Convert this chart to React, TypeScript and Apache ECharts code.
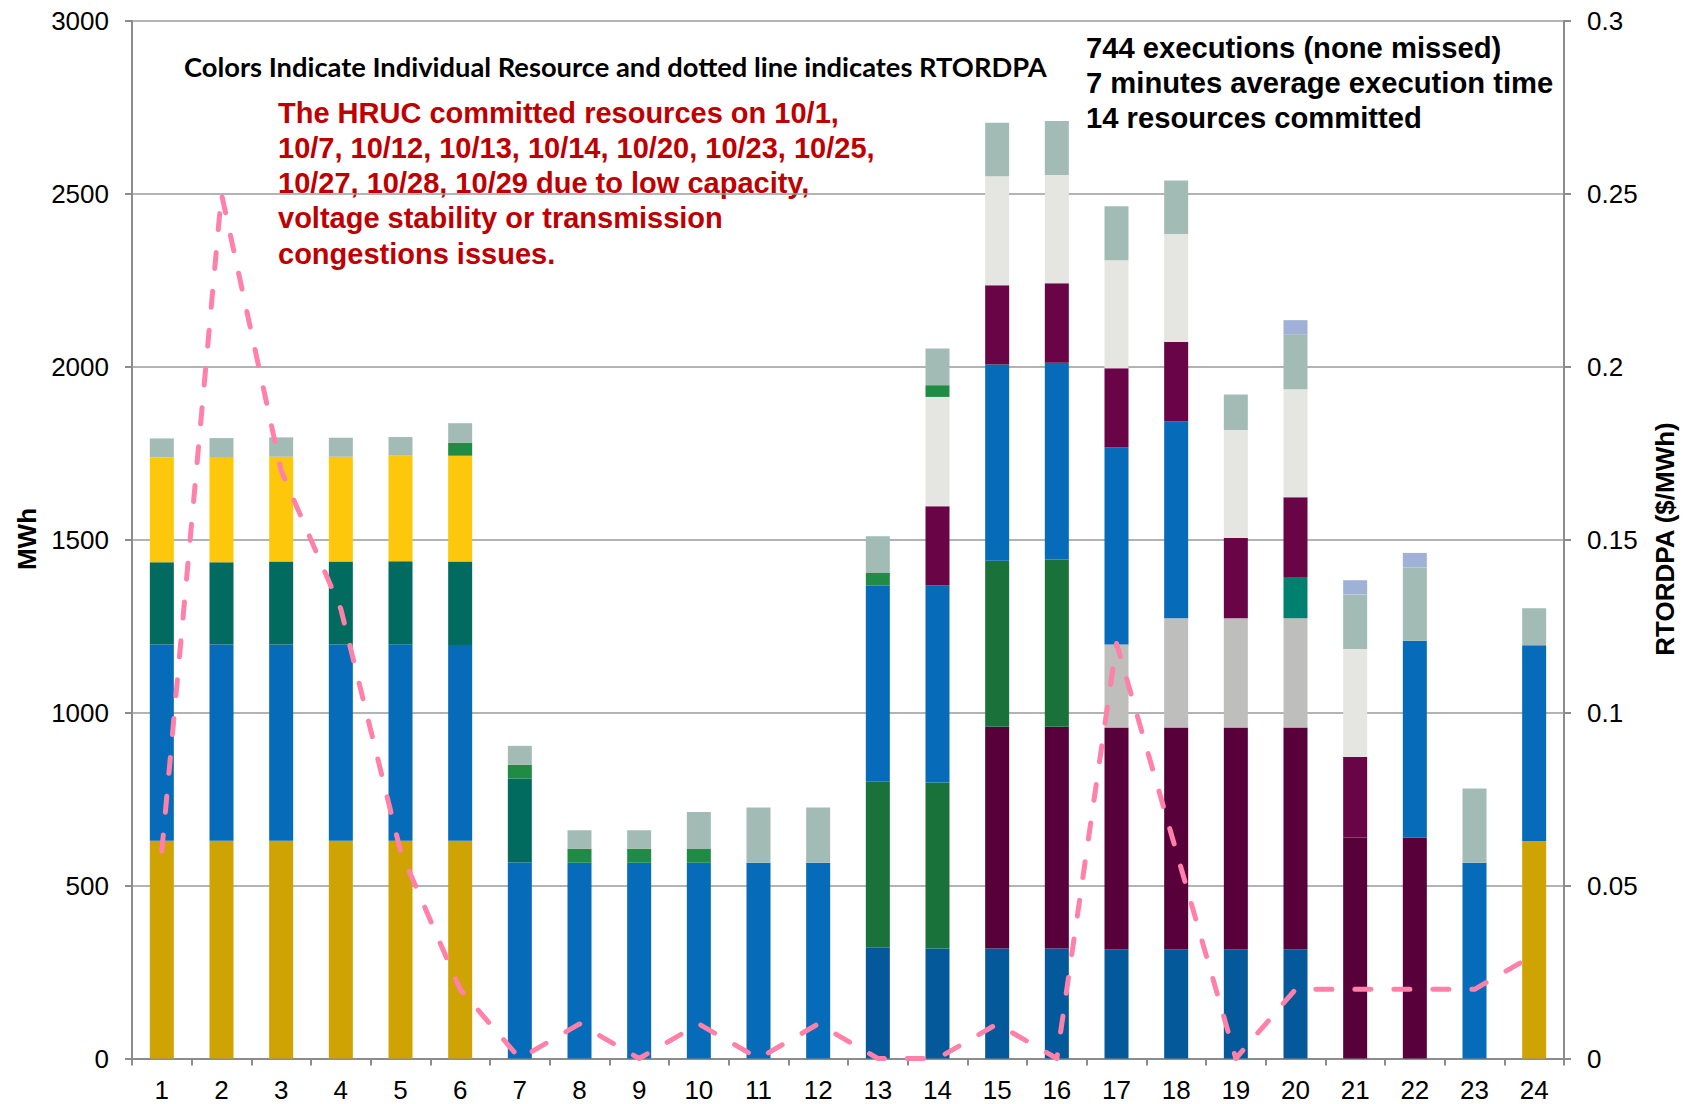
import React, { useEffect, useRef } from "react";
import * as echarts from "echarts";

const categories = ["1","2","3","4","5","6","7","8","9","10","11","12","13","14","15","16","17","18","19","20","21","22","23","24"];

// Stacked resource MWh (bottom to top)
const resGold = [630,630,630,630,630,630,0,0,0,0,0,0,0,0,0,0,0,0,0,0,0,0,0,629];
const resDarkBlue = [0,0,0,0,0,0,0,0,0,0,0,0,320,318,318,318,316,316,316,316,0,0,0,0];
const resDarkPurple = [0,0,0,0,0,0,0,0,0,0,0,0,0,0,641,641,641,641,641,641,639,639,0,0];
const resGreen = [0,0,0,0,0,0,0,0,0,0,0,0,480,480,480,484,0,0,0,0,0,0,0,0];
const resMidGray = [0,0,0,0,0,0,0,0,0,0,0,0,0,0,0,0,240,316,316,316,0,0,0,0];
const resBlue = [567,567,567,567,568,566,567,566,566,566,566,566,567,570,568,569,570,570,0,0,0,569,566,566];
const resDarkTeal = [238,238,240,240,240,241,242,0,0,0,0,0,0,0,0,0,0,0,0,0,0,0,0,0];
const resTeal = [0,0,0,0,0,0,0,0,0,0,0,0,0,0,0,0,0,0,0,119,0,0,0,0];
const resPurple = [0,0,0,0,0,0,0,0,0,0,0,0,0,229,229,230,229,229,232,231,233,0,0,0];
const resYellow = [303,304,303,303,305,306,0,0,0,0,0,0,0,0,0,0,0,0,0,0,0,0,0,0];
const resLightGray = [0,0,0,0,0,0,0,0,0,0,0,0,0,316,315,313,312,312,312,312,312,0,0,0];
const resBrightGreen = [0,0,0,0,0,38,40,40,40,40,0,0,37,34,0,0,0,0,0,0,0,0,0,0];
const resGrayGreen = [55,55,56,55,54,56,55,54,54,107,160,160,106,106,155,156,156,155,103,159,158,212,215,107];
const resLightBlue = [0,0,0,0,0,0,0,0,0,0,0,0,0,0,0,0,0,0,0,41,41,42,0,0];

// RTORDPA ($/MWh)
const rtordpa = [0.06,0.25,0.17,0.13,0.06,0.02,0,0.01,0,0.01,0,0.01,0,0,0.01,0,0.12,0.06,0,0.02,0.02,0.02,0.02,0.03];

const leftTicks = { min: 0, max: 3000, interval: 500 };
const rightTicks = { min: 0, max: 0.3, interval: 0.05 };

const noteLines = [
  "The HRUC committed resources on 10/1,",
  "10/7, 10/12, 10/13, 10/14, 10/20, 10/23, 10/25,",
  "10/27, 10/28, 10/29 due to low capacity,",
  "voltage stability or transmission",
  "congestions issues.",
];
const statLines = [
  "744 executions (none missed)",
  "7 minutes average execution time",
  "14 resources committed",
];
const headline = "Colors Indicate Individual Resource and dotted line indicates RTORDPA";

const stackSeries: [string, number[], string][] = [
  ["Gold", resGold, "#CFA303"],
  ["DarkBlue", resDarkBlue, "#04599A"],
  ["DarkPurple", resDarkPurple, "#570039"],
  ["Green", resGreen, "#18723A"],
  ["MidGray", resMidGray, "#BEBEBC"],
  ["Blue", resBlue, "#066BB8"],
  ["DarkTeal", resDarkTeal, "#006B5E"],
  ["Teal", resTeal, "#00816F"],
  ["Purple", resPurple, "#690546"],
  ["Yellow", resYellow, "#FDC70B"],
  ["LightGray", resLightGray, "#E5E6E1"],
  ["BrightGreen", resBrightGreen, "#208B45"],
  ["GrayGreen", resGrayGreen, "#A2BCB5"],
  ["LightBlue", resLightBlue, "#A0B1D7"],
];

const ARIAL = "Liberation Sans, Arial, sans-serif";

export default function App() {
  const ref = useRef<HTMLDivElement>(null);
  useEffect(() => {
    if (!ref.current) return;
    const chart = echarts.init(ref.current, null, { renderer: "svg" });
    const axisFont = { fontFamily: ARIAL, fontSize: 26, color: "#000" };
    const boldArial = (size: number) => ({ fontFamily: ARIAL, fontWeight: "bold", fontSize: size });
    const graphics: any[] = [];
    graphics.push({
      type: "text",
      x: 184,
      y: 66,
      style: { text: headline, fill: "#000", fontFamily: "Lato, sans-serif", fontWeight: "bold", fontSize: 27.3, align: "left", verticalAlign: "middle" },
    });
    noteLines.forEach((t, i) => {
      graphics.push({
        type: "text",
        x: 278,
        y: 112.5 + i * 35.25,
        style: { text: t, fill: "#C00000", ...boldArial(29), align: "left", verticalAlign: "middle" },
      });
    });
    statLines.forEach((t, i) => {
      graphics.push({
        type: "text",
        x: 1086,
        y: 48.3 + i * 35,
        style: { text: t, fill: "#000", ...boldArial(29.2), align: "left", verticalAlign: "middle" },
      });
    });
    graphics.push({
      type: "text",
      x: 27,
      y: 539,
      rotation: Math.PI / 2,
      style: { text: "MWh", fill: "#000", ...boldArial(26), align: "center", verticalAlign: "middle" },
    });
    graphics.push({
      type: "text",
      x: 1665,
      y: 539,
      rotation: Math.PI / 2,
      style: { text: "RTORDPA ($/MWh)", fill: "#000", ...boldArial(26), align: "center", verticalAlign: "middle" },
    });

    const series: any[] = stackSeries.map(([name, data, color]) => ({
      name,
      type: "bar",
      stack: "res",
      data,
      barWidth: 24,
      itemStyle: { color },
      yAxisIndex: 0,
      z: 2,
    }));
    series.push({
      name: "RTORDPA",
      type: "line",
      yAxisIndex: 1,
      data: rtordpa,
      symbol: "none",
      z: 5,
      lineStyle: { color: "#FF80A8", width: 5, type: [16, 23], cap: "round", join: "round" },
    });

    chart.setOption({
      animation: false,
      backgroundColor: "#fff",
      grid: { left: 132, right: 128, top: 21, bottom: 45.5, containLabel: false },
      xAxis: {
        type: "category",
        data: categories,
        boundaryGap: true,
        axisLine: { show: true, lineStyle: { color: "#8C8C8C", width: 2 } },
        axisTick: { show: true, interval: 0, length: 7, lineStyle: { color: "#8C8C8C", width: 2 } },
        axisLabel: { ...axisFont, margin: 18, interval: 0 },
      },
      yAxis: [
        {
          type: "value",
          ...leftTicks,
          axisLine: { show: true, lineStyle: { color: "#8C8C8C", width: 2 } },
          axisTick: { show: true, length: 7, lineStyle: { color: "#8C8C8C", width: 2 } },
          splitLine: { show: true, lineStyle: { color: "#9A9A9A", width: 1.6 } },
          axisLabel: { ...axisFont, margin: 23, formatter: (v: number) => String(v) },
        },
        {
          type: "value",
          ...rightTicks,
          position: "right",
          axisLine: { show: true, lineStyle: { color: "#8C8C8C", width: 2 } },
          axisTick: { show: true, length: 7, lineStyle: { color: "#8C8C8C", width: 2 } },
          splitLine: { show: false },
          axisLabel: { ...axisFont, margin: 23, formatter: (v: number) => String(+v.toFixed(2)) },
        },
      ],
      graphic: graphics,
      series,
    });
    return () => chart.dispose();
  }, []);
  return <div ref={ref} style={{ position: "absolute", left: 0, top: 0, width: 1692, height: 1104 }} />;
}
